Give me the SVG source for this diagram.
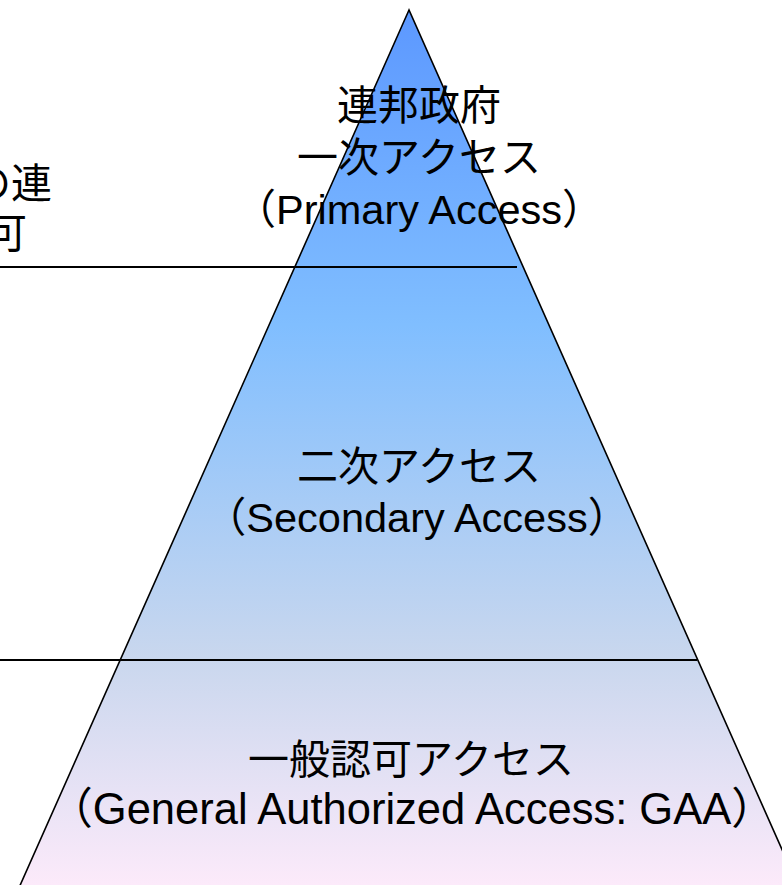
<svg xmlns="http://www.w3.org/2000/svg" width="782" height="885" viewBox="0 0 782 885">
  <style>
    .t { font-family: "Liberation Sans", Arial, "Noto Sans CJK JP", sans-serif; font-size: 41px; fill: #000; }
    .c { text-anchor: middle; }
    .l { font-size: 41.5px; }
    .ln { stroke: #000; stroke-width: 2; fill: none; }
  </style>
  <defs>
    <linearGradient id="g" gradientUnits="userSpaceOnUse" x1="0" y1="10" x2="0" y2="885">
      <stop offset="0" stop-color="#5C98FF"/>
      <stop offset="0.36" stop-color="#80BEFF"/>
      <stop offset="0.74" stop-color="#C9D7EE"/>
      <stop offset="1" stop-color="#FCEAFA"/>
    </linearGradient>
  </defs>
  <rect x="0" y="0" width="782" height="885" fill="#fff"/>
  <g id="pyramid">
    <polygon points="409,10 18,890 800,890" fill="url(#g)" stroke="#000" stroke-width="1.6"/>
  </g>
  <g id="connectors">
    <line class="ln" x1="0" y1="267" x2="517" y2="267"/>
    <line class="ln" x1="0" y1="660" x2="697" y2="660"/>
  </g>
  <g id="left-label">
    <text class="t" x="52" y="198" text-anchor="end">の連</text>
    <text class="t" x="27" y="248" text-anchor="end">可</text>
  </g>
  <g id="primary">
    <text class="t c" x="419" y="120">連邦政府</text>
    <text class="t c" x="419" y="172">一次アクセス</text>
    <text class="t c l" x="419" y="224">（Primary Access）</text>
  </g>
  <g id="secondary">
    <text class="t c" x="419" y="481">二次アクセス</text>
    <text class="t c l" x="417" y="532">（Secondary Access）</text>
  </g>
  <g id="gaa">
    <text class="t c" x="411" y="774">一般認可アクセス</text>
    <text class="t c" x="412" y="824" style="font-size:43.5px">（General Authorized Access: GAA）</text>
  </g>
</svg>
